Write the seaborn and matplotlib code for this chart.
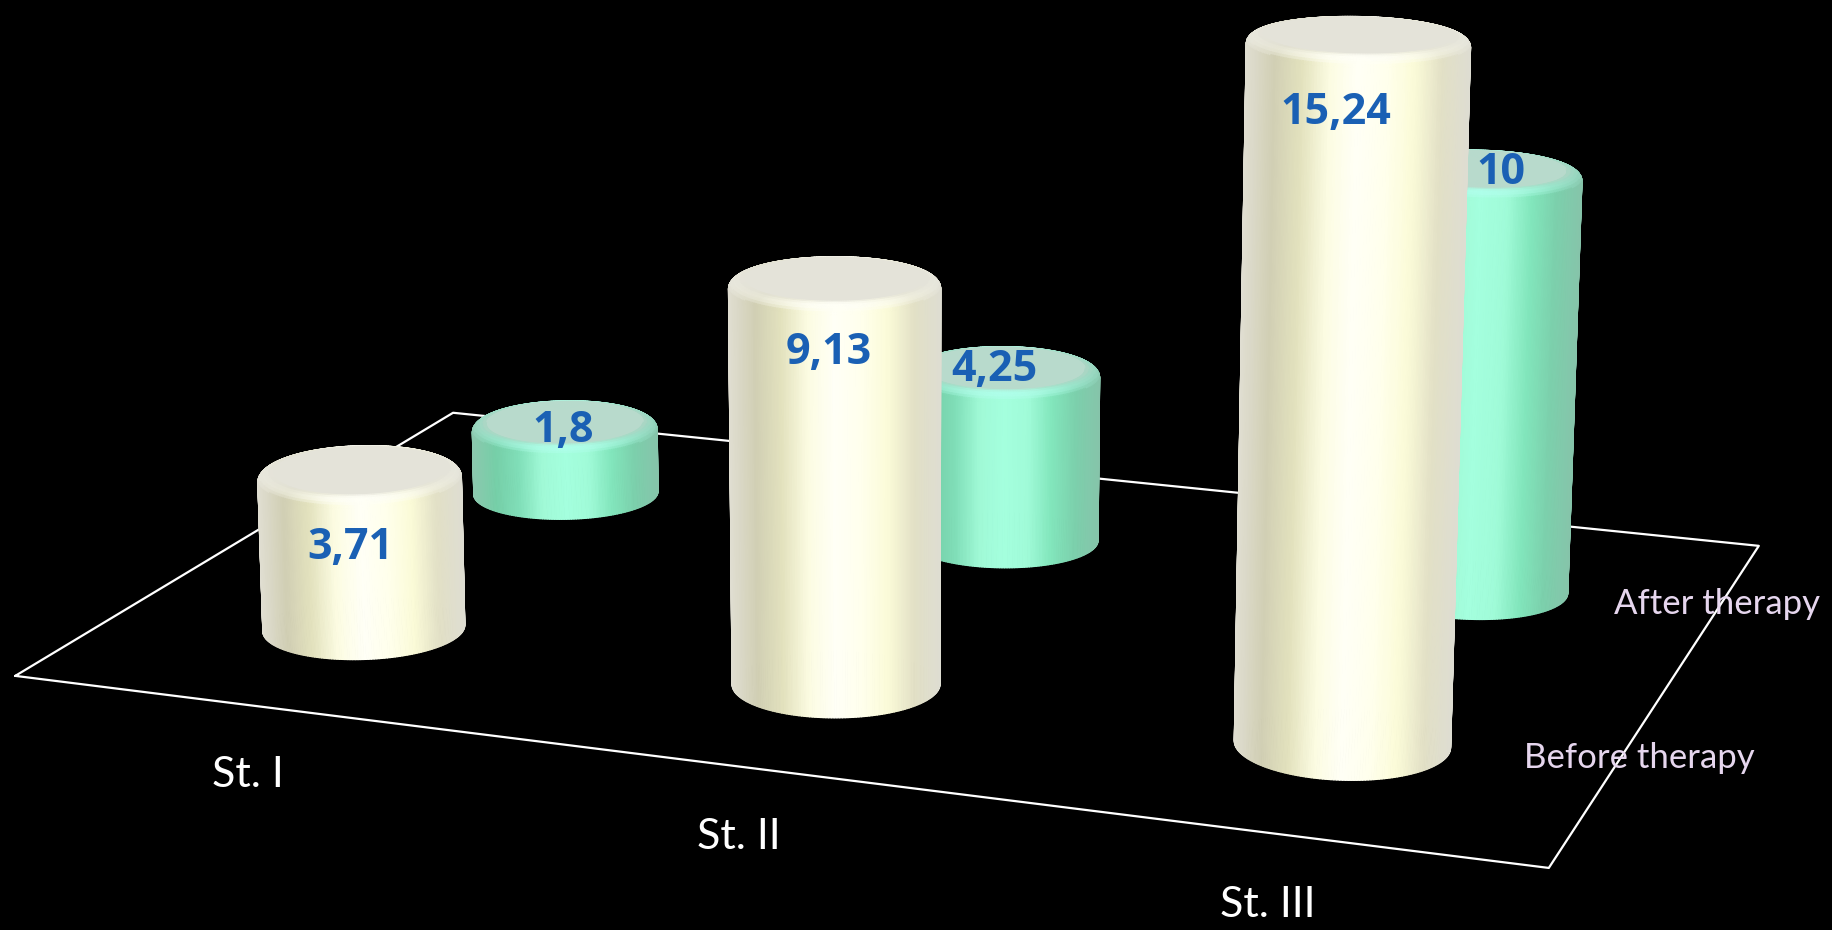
import numpy as np
import seaborn as sns
import matplotlib
matplotlib.use('Agg')
import matplotlib.pyplot as plt
from matplotlib.colors import to_rgba
from mpl_toolkits.mplot3d import proj3d

categories = ['St. I', 'St. II', 'St. III']
before_therapy = [3.71, 9.13, 15.24]
after_therapy = [1.8, 4.25, 10]
series_names = ['Before therapy', 'After therapy']

# label nudges, in data units
before_dx = [-0.025, -0.012, -0.038]
before_dz = [-1.85, -1.65, -1.65]
after_dx = [-0.005, -0.02, 0.04]
after_dz = [-0.2, -0.05, -0.03]

W, H = 1832, 930
RADIUS = 0.1992
BEVEL_R = 0.03
BEVEL_Z = 0.2

sns.set_theme(style='white', rc={'figure.facecolor': 'black', 'axes.facecolor': 'black',
                                 'savefig.facecolor': 'black'})
plt.rcParams['font.family'] = ['Lato', 'DejaVu Sans']

cream = sns.blend_palette(['#E0DED2', '#D1CFB4', '#E3E2BE', '#FCFCE2', '#FFFFF6',
                           '#FFFFEC', '#FBFBD8', '#E2E0C6', '#DEDDD2'], 256, as_cmap=True)
mint = sns.blend_palette(['#8CC8AE', '#76CFA8', '#80DEB8', '#A0F9D6', '#A4FFDE',
                          '#A0FBD8', '#82E6BC', '#7CD0AC', '#86C4AA'], 256, as_cmap=True)


def cylinder(ax, x, y, h, side, rim, cap, zorder):
    theta = np.linspace(0, 2 * np.pi, 241)
    t = np.linspace(0, np.pi / 2, 7)
    radii = np.r_[RADIUS, RADIUS - BEVEL_R * (1 - np.cos(t)), 0]
    heights = np.r_[0, h - BEVEL_Z * (1 - np.sin(t)), h]
    X = x + np.outer(radii, np.cos(theta))
    Y = y + np.outer(radii, np.sin(theta))
    Z = np.outer(heights, np.ones_like(theta))

    # shade from the position across the drawn cylinder
    sx, _, _ = proj3d.proj_transform(x + RADIUS * np.cos(theta), y + RADIUS * np.sin(theta),
                                     np.full_like(theta, h), ax.get_proj())
    u = (sx - sx.min()) / (sx.max() - sx.min())
    um = 0.5 * (u[:-1] + u[1:])
    cols = np.zeros((len(radii) - 1, len(theta) - 1, 4))
    wall = side(um)
    front = np.clip(1 - 2 * np.abs(um - 0.5), 0, 1)[:, None]
    rim_c, cap_c = np.array(to_rgba(rim)), np.array(to_rgba(cap))
    n_bev = len(t)
    for i in range(len(radii) - 1):
        if i == 0:
            cols[i] = wall
        elif i < n_bev:
            f = (i - 1) / (n_bev - 1)
            w = np.sin(np.pi * min(f * 1.1, 1)) * (0.25 + 0.75 * front)
            base = wall * (1 - f ** 2) + cap_c * f ** 2
            cols[i] = base * (1 - w) + rim_c * w
        else:
            cols[i] = cap_c
    ax.plot_surface(X, Y, Z, facecolors=cols, rstride=1, cstride=1, shade=False,
                    linewidth=0.9, zorder=zorder)


def value_label(ax, x, y, z, v):
    # flat text at the projected spot of the bar
    px, py, _ = proj3d.proj_transform(x, y, z, ax.get_proj())
    ax.text2D(px, py, f'{v:g}'.replace('.', ','), transform=ax.transData, ha='center', va='center',
              color='#1A60B4', fontsize=31, fontweight='bold',
              family=['Open Sans', 'DejaVu Sans'], zorder=10)


fig = plt.figure(figsize=(W / 100, H / 100), dpi=100)
L, left, bottom = 1898.84, -51.36, -314.85
ax = fig.add_axes([left / W, bottom / H, L / W, L / H], projection='3d')
ax.computed_zorder = False
ax.set_xlim(0, len(categories))
ax.set_ylim(0, len(series_names))
ax.set_zlim(0, 16)
ax.view_init(14.1096, -70.2537, -0.05)
ax.set_proj_type('persp', focal_length=0.4785)
ax.set_box_aspect((1, 0.6594, 0.4667))
ax.set_axis_off()
ax.patch.set_visible(False)

# floor outline
n_x, n_y = len(categories), len(series_names)
ax.plot([0, n_x, n_x, 0, 0], [0, 0, n_y, n_y, 0], [0, 0, 0, 0, 0], color='white', lw=1.6, zorder=1)

for i, v in enumerate(after_therapy):
    cylinder(ax, i + 0.5, 1.5, v, mint, '#AEFFEA', '#B8DACC', 2)
    value_label(ax, i + 0.5 + after_dx[i], 1.5, v + after_dz[i], v)
for i, v in enumerate(before_therapy):
    cylinder(ax, i + 0.5, 0.5, v, cream, '#FFFFF6', '#E4E3D9', 3)
    value_label(ax, i + 0.5 + before_dx[i], 0.5, v + before_dz[i], v)

for name, px, py in zip(categories, [248, 739, 1268], [775, 837, 905]):
    fig.text(px / W, 1 - py / H, name, color='white', fontsize=31, ha='center', va='center')
fig.text(1639 / W, 1 - 758 / H, series_names[0], color='#E6D6EE', fontsize=25, ha='center', va='center')
fig.text(1717 / W, 1 - 604 / H, series_names[1], color='#E6D6EE', fontsize=25, ha='center', va='center')

fig.savefig('out.png', dpi=100)
